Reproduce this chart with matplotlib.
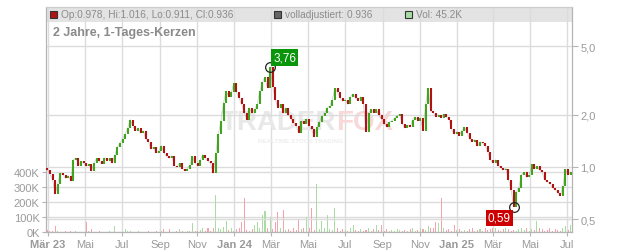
import numpy as np
import pandas as pd
import matplotlib
matplotlib.use("Agg")
import matplotlib.pyplot as plt
import matplotlib.dates as mdates
from matplotlib.patches import Rectangle
from matplotlib.ticker import NullLocator, FixedLocator

plt.rcParams["font.family"] = ["Liberation Sans", "DejaVu Sans"]

# ------------------------------------------------------------------
# DATA
# ------------------------------------------------------------------
start_date = "2023-02-28"
end_date = "2025-07-07"
first_open = 0.99

closes = [
    # Mar - May 2023
    0.96, 0.91, 0.84, 0.70, 0.80, 0.92, 0.90, 0.86, 0.89, 0.83, 1.10, 1.13, 1.02, 1.08, 1.05, 1.01, 1.04, 0.95,
    # May - Sep 2023
    1.06, 1.12, 1.08, 1.04, 1.13, 1.09, 1.12, 1.05, 1.17, 1.30, 1.38, 1.45, 1.55, 1.68, 1.88, 1.72, 1.62, 1.68,
    1.57, 1.62, 1.45, 1.40, 1.27,
    # Sep - Dec 2023
    1.30, 1.20, 1.24, 1.33, 1.21, 1.15, 1.12, 1.16, 1.02, 1.00, 1.05, 0.98, 0.95, 0.98, 1.03, 1.15, 1.05, 1.02,
    1.10, 1.18, 1.12, 1.08, 1.05, 0.92,
    # Dec 2023 - Mar 2024
    1.20, 1.55, 1.85, 2.35, 2.75, 2.55, 2.70, 3.05, 2.70, 2.50, 2.30, 2.05, 1.88, 2.20, 2.05, 2.15, 2.30, 2.75,
    3.10, 3.30, 2.85, 3.76, 2.90,
    # Mar - Jun 2024
    2.45, 2.20, 2.30, 2.05, 2.20, 2.00, 1.90, 1.80, 1.72, 1.58, 1.85, 1.78, 1.90, 1.72, 1.65, 1.50, 1.70, 1.82,
    1.98, 2.05, 2.20, 2.25, 2.45, 2.85,
    # Jun - Oct 2024
    2.70, 2.50, 2.40, 2.45, 2.30, 2.55, 2.65, 2.50, 2.42, 2.55, 2.30, 1.60, 2.05, 2.15, 2.05, 2.15, 2.00, 1.90,
    1.78, 1.70, 1.82, 1.85, 1.92,
    # Oct 2024 - Jan 2025
    1.98, 2.02, 1.78, 1.68, 1.75, 1.70, 1.88, 1.95, 1.85, 1.92, 1.62, 2.30, 2.85, 2.10, 2.05, 1.95, 2.00, 1.93,
    2.02, 1.95, 1.88, 1.65, 1.55, 1.60,
    # Jan - Apr 2025
    1.52, 1.62, 1.70, 1.58, 1.45, 1.40, 1.44, 1.32, 1.40, 1.37, 1.33, 1.22, 1.10, 1.06, 1.10, 1.02, 0.99, 0.96,
    0.98, 0.84, 0.74, 0.59, 0.72, 0.76,
    # Apr - Jul 2025
    0.90, 0.93, 0.87, 0.90, 1.04, 0.98, 1.01, 0.96, 0.93, 0.84, 0.82, 0.80, 0.76, 0.74, 0.71, 0.68, 0.78, 0.97,
    0.90, 0.936,
]

volume_k = [
    12, 8, 5, 40, 10, 3, 0, 6, 2, 4, 0, 8, 3, 0, 2, 65, 5, 23, 2, 0,
    4, 0, 3, 2, 6, 0, 40, 3, 0, 2, 23, 4, 8, 2, 0, 5, 3, 0, 2, 6,
    3, 0, 4, 2, 8, 23, 3, 23, 2, 0, 5, 23, 4, 2, 6, 10, 57, 4, 8, 12,
    25, 6, 25, 10, 30, 250, 30, 20, 35, 75, 15, 25, 10, 20, 30, 70, 230, 15, 10, 20,
    50, 70, 25, 115, 143, 30, 97, 20, 70, 133, 25, 150, 15, 20, 10, 25, 15, 80, 20, 30,
    100, 25, 157, 15, 322, 20, 75, 30, 115, 20, 15, 160, 25, 10, 20, 15, 10, 25, 50, 15,
    10, 20, 8, 15, 25, 10, 20, 50, 15, 50, 10, 20, 8, 15, 10, 20, 12, 8, 15, 10,
    20, 25, 10, 15, 30, 20, 15, 40, 25, 30, 65, 60, 225, 25, 15, 20, 10, 50, 15, 20,
    10, 15, 8, 20, 25, 10, 15, 20, 10, 25, 15, 20, 30, 30, 15, 10, 20, 25, 20, 10,
    15, 10, 20, 25, 15, 30, 10, 20, 15, 75, 25, 20, 10, 15, 30, 10, 20, 15, 10, 25,
    40, 15, 45,
]

tick_dates = ["2023-03-01", "2023-05-01", "2023-07-01", "2023-09-01", "2023-11-01",
              "2024-01-01", "2024-03-01", "2024-05-01", "2024-07-01", "2024-09-01",
              "2024-11-01", "2025-01-01", "2025-03-01", "2025-05-01", "2025-07-01"]
tick_labels = ["Mär 23", "Mai", "Jul", "Sep", "Nov", "Jan 24", "Mär", "Mai", "Jul", "Sep",
               "Nov", "Jan 25", "Mär", "Mai", "Jul"]
bold_labels = {"Mär 23", "Jan 24", "Jan 25"}

price_ticks = [0.5, 1.0, 2.0, 5.0]
price_labels = ["0,5", "1,0", "2,0", "5,0"]
vol_ticks = [0, 100, 200, 300, 400]
vol_labels = ["0K", "100K", "200K", "300K", "400K"]

legend_ohlc = "Op:0.978, Hi:1.016, Lo:0.911, Cl:0.936"
legend_adj = "volladjustiert: 0.936"
legend_vol = "Vol: 45.2K"

# ------------------------------------------------------------------
# STYLE
# ------------------------------------------------------------------
W, H = 632, 253
green = "#40a41e"
red = "#b31212"
vol_green = "#a9dca2"
vol_red = "#f2a3ad"
grid_c = "#dcdcdc"
text_c = "#9a9a9a"
spine_c = "#b4b4b4"

def fx(x):
    return x / W

def fy(y):
    return 1 - y / H

# ------------------------------------------------------------------
# PREP
# ------------------------------------------------------------------
closes = np.array(closes)
opens = np.concatenate([[first_open], closes[:-1]])
dates = mdates.date2num(pd.date_range(start_date, end_date, periods=len(closes)))
up = closes >= opens
lows = np.minimum(opens, closes)
highs = np.maximum(opens, closes)

# ------------------------------------------------------------------
# FIGURE
# ------------------------------------------------------------------
fig = plt.figure(figsize=(W / 100, H / 100), dpi=100)
ax_v = fig.add_axes([fx(46), 20 / H, (572 - 46) / W, 225 / H])
ax = ax_v.twinx()

# volume (left axis)
ax_v.bar(dates, volume_k, width=1.7, color=np.where(up, vol_green, vol_red), zorder=2, linewidth=0)
ax_v.set_ylim(0, 1500)
ax_v.set_yticks(vol_ticks)
ax_v.set_yticklabels(vol_labels)
x0 = mdates.datestr2num("2023-03-01") - 2 / 0.6085
x1 = mdates.datestr2num("2025-07-01") + 5 / 0.6085
ax_v.set_xlim(x0, x1)
ax_v.set_xticks(mdates.datestr2num(tick_dates))
ax_v.set_xticklabels(tick_labels)
for lab in ax_v.get_xticklabels():
    if lab.get_text() in bold_labels:
        lab.set_fontweight("bold")
ax_v.set_axisbelow(True)
ax_v.grid(True, color=grid_c, linewidth=1)
ax_v.tick_params(axis="both", colors=spine_c, labelcolor=text_c, labelsize=8, length=3, width=0.8)
ax_v.tick_params(axis="x", pad=2)
ax_v.tick_params(axis="y", pad=1.5)

# header band
ax_v.add_patch(Rectangle((0, 1 - 15 / 225), 1, 15 / 225, transform=ax_v.transAxes,
                         facecolor="#e3e3e3", edgecolor="none", zorder=0))

# watermark
wm_x = fx(336 - 46) / ((572 - 46) / W)
ax_v.text(wm_x, (233 - 130) / 225, "TRADER", transform=ax_v.transAxes,
          ha="right", va="baseline", fontsize=20, fontweight="bold", color="#e8e8e8", zorder=0.6)
ax_v.text(wm_x, (233 - 130) / 225, "FOX", transform=ax_v.transAxes,
          ha="left", va="baseline", fontsize=20, fontweight="bold", color="#f8d8d8", zorder=0.6)
ax_v.text(fx(300 - 46) / ((572 - 46) / W), (233 - 143) / 225, "REALTIME STOCK TRADING",
          transform=ax_v.transAxes, ha="center", va="baseline", fontsize=4.5, fontweight="bold",
          color="#ededed", zorder=0.6)

# candles (right axis, log)
ax.plot(dates, closes, color="#9a9a9a", linewidth=0.5, alpha=0.5, zorder=2)
ax.vlines(dates, lows, highs, colors=np.where(up, green, red), linewidth=1.5, zorder=3)
ax.set_yscale("log")
ax.set_ylim(0.421, 8.41)
ax.yaxis.set_major_locator(FixedLocator(price_ticks))
ax.yaxis.set_minor_locator(NullLocator())
ax.set_yticklabels(price_labels)
ax.set_axisbelow(True)
ax.grid(True, axis="y", color=grid_c, linewidth=1)
ax.tick_params(axis="y", colors=spine_c, labelcolor=text_c, labelsize=8, length=4, width=0.8, pad=2)
ax.tick_params(axis="y", which="minor", length=0)

for a in (ax, ax_v):
    for s in a.spines.values():
        s.set_color(spine_c)
        s.set_linewidth(0.8)
    a.spines["top"].set_color("#cccccc")

# max / min markers
i_max = int(np.argmax(closes))
i_min = int(np.argmin(closes))
ax.plot(dates[i_max], closes[i_max], "o", ms=7, mfc="none", mec="#222222", mew=0.9, zorder=5)
ax.plot(dates[i_min], closes[i_min], "o", ms=7, mfc="none", mec="#222222", mew=0.9, zorder=5)
ax.annotate(f"{closes[i_max]:.2f}".replace(".", ","), xy=(dates[i_max], closes[i_max]),
            xytext=(3, 4), textcoords="offset pixels", ha="left", va="bottom", fontsize=8.5,
            color="white", zorder=6,
            bbox=dict(boxstyle="square,pad=0.18", facecolor="#0a960a", edgecolor="none"))
ax.annotate(f"{closes[i_min]:.2f}".replace(".", ","), xy=(dates[i_min], closes[i_min]),
            xytext=(-3, -5), textcoords="offset pixels", ha="right", va="top", fontsize=8.5,
            color="white", zorder=6,
            bbox=dict(boxstyle="square,pad=0.18", facecolor="#cc0000", edgecolor="none"))

# legend in header band
for x, fc, label in [(50, red, legend_ohlc), (274, "#666666", legend_adj), (405, vol_green, legend_vol)]:
    fig.patches.append(Rectangle((fx(x), fy(19)), 7 / W, 7 / H, transform=fig.transFigure,
                                 facecolor=fc, edgecolor="#333333", linewidth=0.8))
    fig.text(fx(x + 11), fy(15.5), label, ha="left", va="center", fontsize=7.3, color="#8c8c8c")

fig.text(fx(53), fy(33), "2 Jahre, 1-Tages-Kerzen", ha="left", va="center", fontsize=9,
         fontweight="bold", color="#8a8a8a")

fig.savefig("out.png", dpi=100)
